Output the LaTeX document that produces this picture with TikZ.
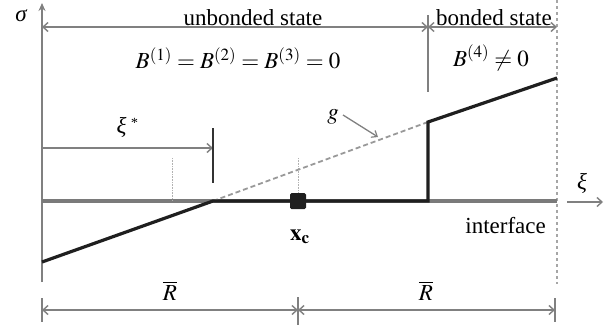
\documentclass[tikz,border=0pt]{standalone}
\usepackage{mathptmx}
\usepackage[no-math]{fontspec}
\setmainfont{Liberation Serif}
\usetikzlibrary{arrows.meta}
\definecolor{dimgray}{gray}{0.5}
\definecolor{ifgray}{gray}{0.48}
\definecolor{curvecol}{gray}{0.12}
\definecolor{gdash}{gray}{0.6}
\begin{document}
\begin{tikzpicture}[x=1pt,y=-1pt,
  dim/.style={draw=dimgray, line width=1.6pt},
  barb/.tip={Straight Barb[length=5pt,width=9pt,line width=1.4pt]},
  dimboth/.style={dim, barb-barb},
  dimright/.style={dim, -barb},
  tick/.style={draw=dimgray, line width=1.6pt},
  darktick/.style={draw=black!80, line width=1.3pt},
  fine/.style={draw=gray!60, line width=0.6pt, densely dotted},
  lbl/.style={font=\fontsize{23}{27}\selectfont, inner sep=0pt},
  curve/.style={draw=curvecol, line width=3.2pt, line join=miter},
  iface/.style={draw=ifgray, line width=4pt},
  gline/.style={draw=gdash, line width=1.8pt, dash pattern=on 5pt off 3pt},
  bound/.style={draw=gray!70, line width=1.8pt, dash pattern=on 3pt off 3pt}
]
\useasboundingbox (0,0) rectangle (613,327);
% named points
\coordinate (O) at (42,201);
\coordinate (atop) at (42,3);
\coordinate (abot) at (42,282);
\coordinate (iend) at (557,201);
\coordinate (btop) at (557,0);
\coordinate (bbot) at (557,284);
\coordinate (xis) at (567,202);
\coordinate (xie) at (603,202);
\coordinate (c0) at (42,262);
\coordinate (c1) at (213,201);
\coordinate (c2) at (428,201);
\coordinate (c3) at (428,122);
\coordinate (c4) at (557,78);
\coordinate (tl) at (42,27);
\coordinate (tm) at (428,27);
\coordinate (tr) at (557,27);
\coordinate (tmt) at (428,15);
\coordinate (tmb) at (428,92);
\coordinate (sl) at (42,148);
\coordinate (sr) at (213,148);
\coordinate (st) at (213,128);
\coordinate (sb) at (213,183);
\coordinate (d1t) at (172,158);
\coordinate (d1b) at (172,201);
\coordinate (d2t) at (298,158);
\coordinate (d2b) at (298,195);
\coordinate (bl) at (42,310);
\coordinate (bm) at (298,310);
\coordinate (br) at (555,310);
\coordinate (blt) at (42,298);
\coordinate (blb) at (42,322);
\coordinate (bmt) at (298,297);
\coordinate (bmb) at (298,325);
\coordinate (brt) at (555,298);
\coordinate (brb) at (555,322);
\coordinate (ga) at (343,115);
\coordinate (gb) at (378,137);

% boundary dashed line
\draw[bound] (btop) -- (bbot);
% vertical axis
\draw[dim, -{Stealth[length=8pt,width=7pt]}] (abot) -- (atop);
% interface
\draw[iface] (O) -- (iend);
% xi axis
\draw[dim, -barb] (xis) -- (xie);
% fine dotted guides
\draw[fine] (d1t) -- (d1b);
\draw[fine] (d2t) -- (d2b);
% g dashed
\draw[gline] (c1) -- (c3);
% stress curve
\draw[curve] (c0) -- (c1) -- (c2) -- (c3) -- (c4);
% square at x_c
\node[fill=curvecol, minimum size=16pt, inner sep=0pt, rounded corners=1.5pt] (sq) at (298,201) {};
% top dimension arrows
\draw[dimboth] (tl) -- (tm);
\draw[dimboth] (tm) -- (tr);
\draw[tick] (tmt) -- (tmb);
% xi* dimension
\draw[dimright] (sl) -- (sr);
\draw[darktick] (st) -- (sb);
% bottom dimension
\draw[dimboth] (bl) -- (bm);
\draw[dimboth] (bm) -- (br);
\draw[tick] (blt) -- (blb);
\draw[tick] (bmt) -- (bmb);
\draw[tick] (brt) -- (brb);
% g arrow
\draw[dim, line width=1.3pt, -{Straight Barb[length=5pt,width=8pt,line width=1.2pt]}] (ga) -- (gb);

% labels
\node[lbl] (sigma) at (21,16) {\itshape σ};
\node[lbl, anchor=base] (unb) at (253,25) {unbonded state};
\node[lbl, anchor=base] (bon) at (494,25) {bonded state};
\node[lbl] (beq) at (238,58) {$B^{(1)} = B^{(2)} = B^{(3)} = 0$};
\node[lbl] (bneq) at (491,58) {$B^{(4)} \neq 0$};
\node[lbl] (xistar) at (127,127) {\itshape ξ\,\raisebox{0.55ex}{\fontsize{14}{16}\selectfont *}};
\node[lbl] (glab) at (333,117) {$g$};
\node[lbl] (xilab) at (582,183) {\itshape ξ};
\node[lbl] (xc) at (300,237) {$\mathbf{x}_{\mathbf{c}}$};
\node[lbl, anchor=east] (ifl) at (546,226) {interface};
\node[lbl] (r1) at (170,291) {$\overline{R}$};
\node[lbl] (r2) at (426,291) {$\overline{R}$};
\end{tikzpicture}
\end{document}
